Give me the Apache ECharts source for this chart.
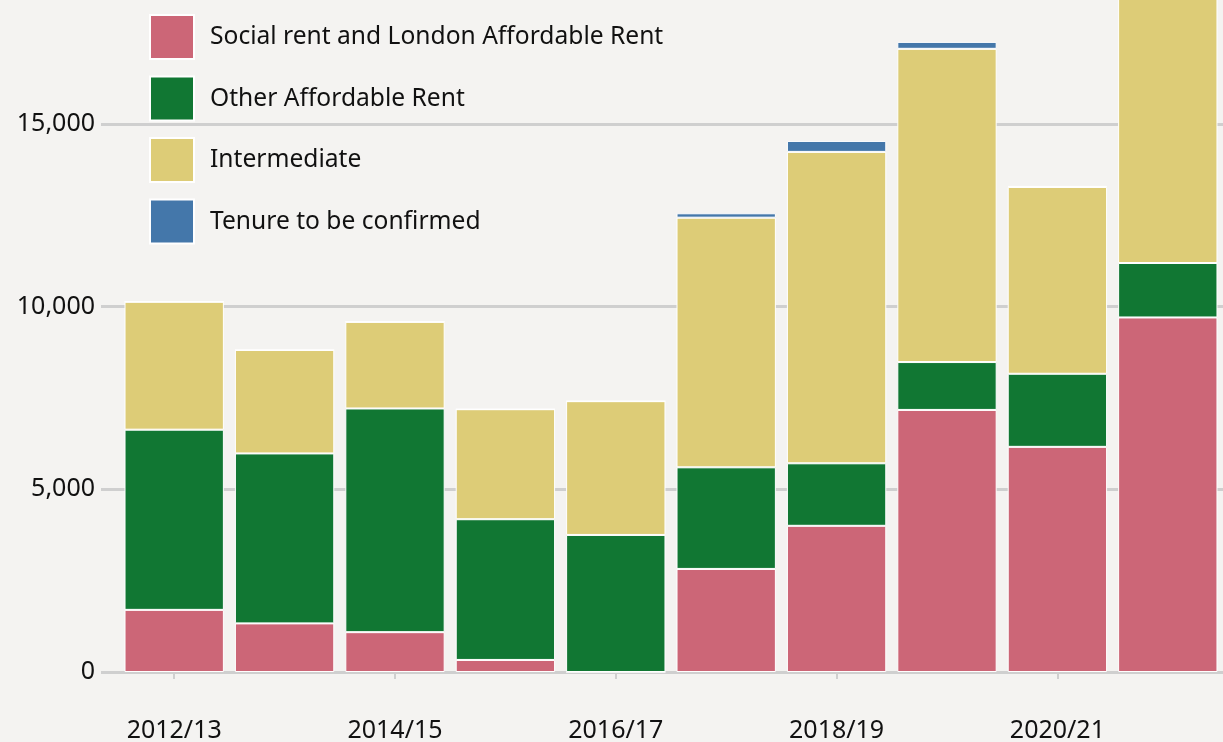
<!DOCTYPE html>
<html>
<head>
<meta charset="utf-8">
<title>Affordable housing completions by tenure</title>
<script src="https://cdn.jsdelivr.net/npm/echarts@6/dist/echarts.min.js"></script>
<style>
  html, body { margin: 0; padding: 0; background: #f4f3f1; }
  #chart { width: 1223px; height: 742px; }
</style>
</head>
<body>
<div id="chart"></div>
<script>
// financial years
var years = ['2012/13', '2013/14', '2014/15', '2015/16', '2016/17', '2017/18', '2018/19', '2019/20', '2020/21', '2021/22'];
// homes by tenure
var socialRent = [1700, 1330, 1090, 330, 0, 2820, 4000, 7170, 6160, 9700];
var otherAffordable = [4930, 4650, 6120, 3850, 3750, 2780, 1710, 1310, 2000, 1490];
var intermediate = [3500, 2830, 2370, 3010, 3660, 6830, 8520, 8570, 5110, 8300];
var tenureTbc = [0, 0, 0, 0, 0, 120, 300, 190, 30, 0];

var seriesNames = ['Social rent and London Affordable Rent', 'Other Affordable Rent', 'Intermediate', 'Tenure to be confirmed'];
var seriesColors = ['#cc6677', '#117733', '#ddcc77', '#4477aa'];

var fontFamily = "'Noto Sans', sans-serif";
var gridColor = '#cfcfcf';

var chart = echarts.init(document.getElementById('chart'), null, { renderer: 'canvas' });

function barSeries(i, data) {
  return {
    name: seriesNames[i],
    type: 'bar',
    stack: 'total',
    barCategoryGap: '10%',
    data: data,
    itemStyle: {
      color: seriesColors[i],
      borderColor: '#ffffff',
      borderWidth: 1
    }
  };
}

var option = {
  backgroundColor: '#f4f3f1',
  animation: false,
  textStyle: { fontFamily: fontFamily },
  // top of the plot runs off the page, so the last bar is cut
  grid: {
    left: 119,
    right: 0,
    top: -59,
    bottom: 70,
    outerBoundsMode: 'none',
    containLabel: false
  },
  legend: {
    orient: 'vertical',
    left: 149,
    top: 14,
    padding: 0,
    itemWidth: 44,
    itemHeight: 44,
    itemGap: 15.5,
    icon: 'rect',
    selectedMode: false,
    textStyle: {
      fontFamily: fontFamily,
      fontSize: 24.6,
      color: '#111',
      padding: [0, 0, 0, 11]
    },
    data: seriesNames
  },
  xAxis: {
    type: 'category',
    data: years,
    offset: 34,
    axisLine: { show: false },
    axisTick: {
      show: true,
      alignWithLabel: true,
      interval: 1,
      length: 7,
      lineStyle: { color: gridColor, width: 2 }
    },
    axisLabel: {
      interval: 1,
      margin: 12,
      fontFamily: fontFamily,
      fontSize: 25,
      color: '#111'
    }
  },
  yAxis: {
    type: 'value',
    min: 0,
    max: 20000,
    interval: 5000,
    axisLine: { show: false },
    axisTick: {
      show: true,
      length: 18,
      lineStyle: { color: gridColor, width: 3 }
    },
    splitLine: {
      show: true,
      lineStyle: { color: gridColor, width: 3 }
    },
    axisLabel: {
      margin: 24,
      fontFamily: fontFamily,
      fontSize: 25,
      color: '#111',
      formatter: function (v) {
        return v.toLocaleString('en-GB');
      }
    }
  },
  series: [
    barSeries(0, socialRent),
    barSeries(1, otherAffordable),
    barSeries(2, intermediate),
    barSeries(3, tenureTbc)
  ]
};

chart.setOption(option);
</script>
</body>
</html>
